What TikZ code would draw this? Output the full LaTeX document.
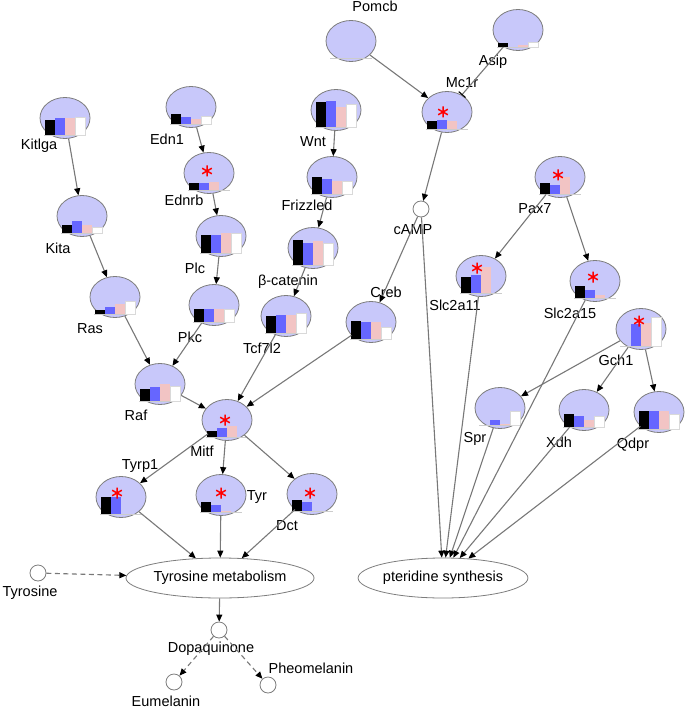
\documentclass[tikz,border=0pt]{standalone}
\usepackage{fontspec}
\setmainfont{Liberation Sans}
\usetikzlibrary{shapes.geometric,arrows.meta}
\definecolor{genefill}{RGB}{200,200,250}
\definecolor{geneedge}{RGB}{125,125,125}
\definecolor{barblue}{RGB}{102,102,255}
\definecolor{barpink}{RGB}{242,196,196}
\definecolor{edgegray}{RGB}{120,120,120}
\newcommand\lblfont{\fontsize{14.5}{16}\selectfont}
\newcommand\barsat[5]{%
  \begin{scope}[shift={(#1.center)}]
    \draw[gray!40, line width=0.6pt] (-21,17) -- (21,17);
    \ifdim #2pt>0pt \fill[black] (-20,17) rectangle (-10,{17-#2});\fi
    \ifdim #3pt>0pt \fill[barblue] (-10,17) rectangle (0,{17-#3});\fi
    \ifdim #4pt>0pt \fill[barpink] (0,17) rectangle (10,{17-#4});\fi
    \ifdim #5pt>0pt \filldraw[fill=white,draw=gray!30,line width=0.4pt] (10,17) rectangle (20,{17-#5});\fi
  \end{scope}}
\newcommand\sigmark[3]{%
  \begin{scope}[shift={(#1.center)}, shift={(#2,#3)}]
    \draw[red, line width=1.5pt] (0,-5.5) -- (0,5.5) (-4.8,-2.75) -- (4.8,2.75) (-4.8,2.75) -- (4.8,-2.75);
  \end{scope}}
\tikzset{
  gene/.style={ellipse, draw=geneedge, fill=genefill, line width=0.8pt, minimum width=50pt, minimum height=41pt, inner sep=0pt},
  metab/.style={circle, draw=geneedge, fill=white, line width=0.8pt, minimum size=16pt, inner sep=0pt},
  pathway/.style={ellipse, draw=geneedge, fill=white, line width=0.8pt, minimum width=165pt, minimum height=40pt, inner sep=0pt, font=\lblfont},
  lbl/.style={anchor=base, inner sep=0pt, font=\lblfont},
  arr/.style={draw=edgegray, line width=1.1pt, -{Triangle[length=7pt,width=6pt,color=black,fill=black]}},
  darr/.style={arr, dash pattern=on 5pt off 3.5pt},
  inhib/.style={draw=edgegray, line width=1.1pt, -{Bar[width=9pt,color=black,line width=1.1pt]}}
}
\begin{document}
\begin{tikzpicture}[x=1pt,y=-1pt]
\useasboundingbox (0,0) rectangle (685,708);
% gene nodes
\node[gene] (Kitlga) at (65,118) {};
\node[gene] (Edn1) at (191,107) {};
\node[gene] (Ednrb) at (209,173) {};
\node[gene] (Wnt) at (336,110) {};
\node[gene] (Frizzled) at (332,177) {};
\node[gene] (Pomcb) at (351,41) {};
\node[gene] (Asip) at (518,30) {};
\node[gene] (Mc1r) at (447,112) {};
\node[metab] (cAMP) at (421,209) {};
\node[gene] (Pax7) at (560,177) {};
\node[gene] (Slc2a11) at (481,276) {};
\node[gene] (Slc2a15) at (595,281) {};
\node[gene] (Gch1) at (641,329) {};
\node[gene] (Spr) at (500,408) {};
\node[gene] (Xdh) at (584,410) {};
\node[gene] (Qdpr) at (659,412) {};
\node[gene] (Kita) at (82,216) {};
\node[gene] (Ras) at (115,297) {};
\node[gene] (Plc) at (221,236) {};
\node[gene] (Pkc) at (214,305) {};
\node[gene] (bcat) at (313,248) {};
\node[gene] (Tcf7l2) at (286,316) {};
\node[gene] (Creb) at (371,322) {};
\node[gene] (Raf) at (160,384) {};
\node[gene] (Mitf) at (227,420) {};
\node[gene] (Tyrp1) at (121,497) {};
\node[gene] (Tyr) at (221,495) {};
\node[gene] (Dct) at (312,494) {};
\node[pathway] (TM) at (220,578) {Tyrosine metabolism};
\node[pathway, minimum width=160pt] (PS) at (443,578) {pteridine synthesis};
\node[metab] (Tyrosine) at (38,573) {};
\node[metab] (Dopa) at (219,630) {};
\node[metab] (Eu) at (174,682) {};
\node[metab] (Pheo) at (268,685) {};
% bars
\barsat{Kitlga}{15}{17}{17}{18}
\barsat{Edn1}{10}{7}{5}{8}
\barsat{Ednrb}{7}{7}{8}{0}
\barsat{Wnt}{25}{26}{20}{23}
\barsat{Frizzled}{17}{15}{13}{13}
\barsat{Pomcb}{0}{0}{0}{0}
\barsat{Asip}{4}{0}{2}{5}
\barsat{Mc1r}{8}{9}{8}{0}
\barsat{Pax7}{11}{9}{17}{0}
\barsat{Slc2a11}{16}{18}{26}{0}
\barsat{Slc2a15}{12}{8}{3}{0}
\barsat{Gch1}{0}{22}{23}{29}
\barsat{Spr}{0}{5}{1}{14}
\barsat{Xdh}{13}{11}{7}{11}
\barsat{Qdpr}{18}{18}{18}{15}
\barsat{Kita}{8}{12}{8}{6}
\barsat{Ras}{4}{7}{10}{13}
\barsat{Plc}{18}{18}{20}{20}
\barsat{Pkc}{13}{13}{13}{13}
\barsat{bcat}{25}{22}{24}{22}
\barsat{Tcf7l2}{17}{18}{18}{20}
\barsat{Creb}{18}{17}{17}{12}
\barsat{Raf}{12}{14}{17}{15}
\barsat{Mitf}{6}{9}{11}{0}
\barsat{Tyrp1}{17}{17}{0}{0}
\barsat{Tyr}{10}{7}{1}{0}
\barsat{Dct}{11}{9}{0}{0}
% significance marks
\sigmark{Mc1r}{-4}{0}
\sigmark{Ednrb}{-2}{-2}
\sigmark{Pax7}{-2}{-2}
\sigmark{Slc2a11}{-4}{-8}
\sigmark{Slc2a15}{-2}{-4}
\sigmark{Gch1}{-2}{-8}
\sigmark{Mitf}{-2}{0}
\sigmark{Tyrp1}{-4}{-4}
\sigmark{Tyr}{0}{-2}
\sigmark{Dct}{-2}{-1}
% labels
\node[lbl] (lKitlga) at (39,150) {Kitlga};
\node[lbl] (lEdn1) at (167,145) {Edn1};
\node[lbl] (lEdnrb) at (184,206) {Ednrb};
\node[lbl] (lWnt) at (313,147) {Wnt};
\node[lbl] (lFrizzled) at (307,211) {Frizzled};
\node[lbl] (lPomcb) at (375,12) {Pomcb};
\node[lbl] (lAsip) at (493,66) {Asip};
\node[lbl] (lMc1r) at (462,88) {Mc1r};
\node[lbl] (lcAMP) at (413,235) {cAMP};
\node[lbl] (lPax7) at (535,214) {Pax7};
\node[lbl] (lSlc2a11) at (455,310) {Slc2a11};
\node[lbl] (lSlc2a15) at (570,318) {Slc2a15};
\node[lbl] (lGch1) at (616,365) {Gch1};
\node[lbl] (lSpr) at (475,442) {Spr};
\node[lbl] (lXdh) at (559,447) {Xdh};
\node[lbl] (lQdpr) at (633,448) {Qdpr};
\node[lbl] (lKita) at (58,254) {Kita};
\node[lbl] (lRas) at (90,333) {Ras};
\node[lbl] (lPlc) at (195,273) {Plc};
\node[lbl] (lPkc) at (190,342) {Pkc};
\node[lbl] (lbcat) at (288,285) {β-catenin};
\node[lbl] (lTcf7l2) at (262,353) {Tcf7l2};
\node[lbl] (lCreb) at (386,297) {Creb};
\node[lbl] (lRaf) at (136,420) {Raf};
\node[lbl] (lMitf) at (202,456) {Mitf};
\node[lbl] (lTyrp1) at (140,469) {Tyrp1};
\node[lbl] (lTyr) at (257,500) {Tyr};
\node[lbl] (lDct) at (287,530) {Dct};
\node[lbl] (lTyrosine) at (30,596) {Tyrosine};
\node[lbl] (lDopa) at (211,652) {Dopaquinone};
\node[lbl] (lEu) at (166,706) {Eumelanin};
\node[lbl] (lPheo) at (311,673) {Pheomelanin};
% edges
\draw[arr] (Kitlga) -- (Kita);
\draw[arr] (Kita) -- (Ras);
\draw[arr] (Ras) -- (Raf);
\draw[arr] (Edn1) -- (Ednrb);
\draw[arr] (Ednrb) -- (Plc);
\draw[arr] (Plc) -- (Pkc);
\draw[arr] (Pkc) -- (Raf);
\draw[arr] (Raf) -- (Mitf);
\draw[arr] (Wnt) -- (Frizzled);
\draw[arr] (Frizzled) -- (bcat);
\draw[arr] (bcat) -- (Tcf7l2);
\draw[arr] (Tcf7l2) -- (Mitf);
\draw[arr] (Creb) -- (Mitf);
\draw[arr] (Pomcb) -- (Mc1r);
\draw[inhib] (Asip) -- (Mc1r);
\draw[arr] (Mc1r) -- (cAMP);
\draw[arr] (cAMP) -- (Creb);
\draw[arr] (Mitf) -- (Tyrp1);
\draw[arr] (Mitf) -- (Tyr);
\draw[arr] (Mitf) -- (Dct);
\draw[arr] (Tyrp1) -- (TM);
\draw[arr] (Tyr) -- (TM);
\draw[arr] (Dct) -- (TM);
\draw[darr] (Tyrosine) -- (TM);
\draw[arr] (TM) -- (Dopa);
\draw[darr] (Dopa) -- (Eu);
\draw[darr] (Dopa) -- (Pheo);
\draw[arr] (Pax7) -- (Slc2a11);
\draw[arr] (Pax7) -- (Slc2a15);
\draw[arr] (Gch1) -- (Spr);
\draw[arr] (Gch1) -- (Xdh);
\draw[arr] (Gch1) -- (Qdpr);
\draw[arr] (cAMP) -- (PS);
\draw[arr] (Slc2a11) -- (PS);
\draw[arr] (Slc2a15) -- (PS);
\draw[arr] (Spr) -- (PS);
\draw[arr] (Xdh) -- (PS);
\draw[arr] (Qdpr) -- (PS);
\end{tikzpicture}
\end{document}
